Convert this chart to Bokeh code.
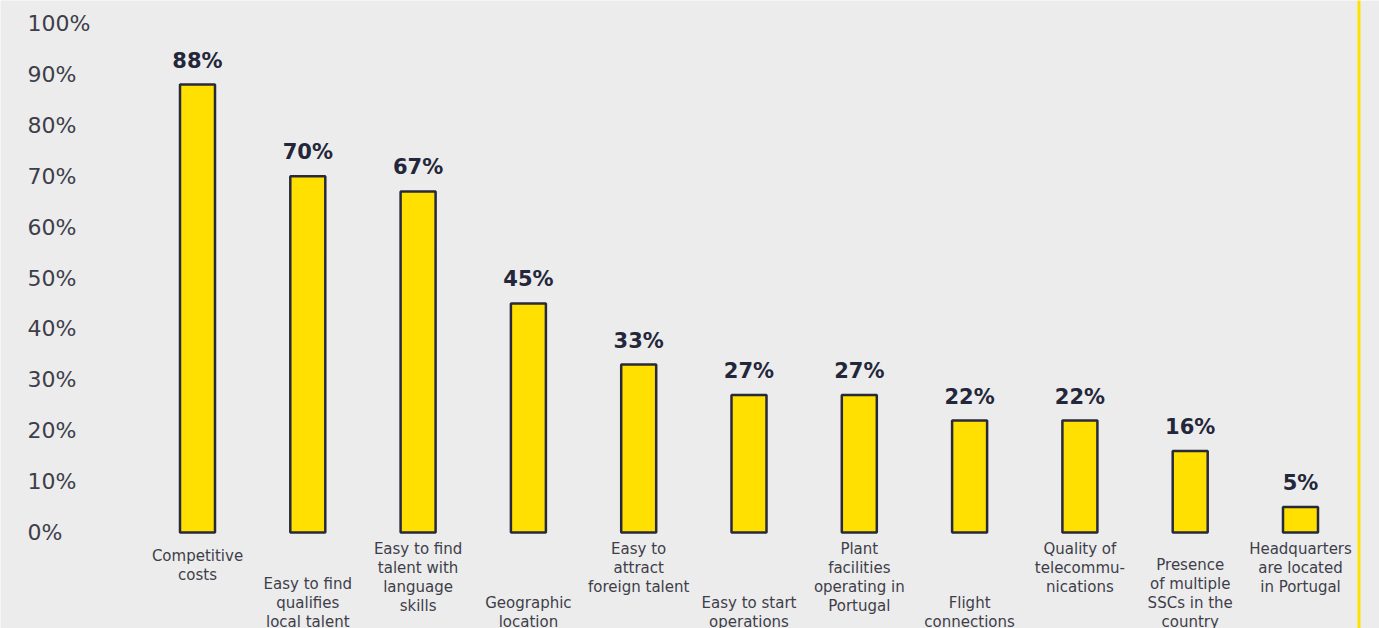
from bokeh.plotting import figure
from bokeh.models import Range1d, ColumnDataSource, Span
from bokeh.core.properties import value
from bokeh.embed import file_html
from bokeh.resources import INLINE

# ---- data ----
categories = [
    "Competitive\ncosts",
    "Easy to find\nqualifies\nlocal talent",
    "Easy to find\ntalent with\nlanguage\nskills",
    "Geographic\nlocation",
    "Easy to\nattract\nforeign talent",
    "Easy to start\noperations",
    "Plant\nfacilities\noperating in\nPortugal",
    "Flight\nconnections",
    "Quality of\ntelecommu-\nnications",
    "Presence\nof multiple\nSSCs in the\ncountry",
    "Headquarters\nare located\nin Portugal",
]
values = [88, 70, 67, 45, 33, 27, 27, 22, 22, 16, 5]
y_ticks = [0, 10, 20, 30, 40, 50, 60, 70, 80, 90, 100]
y_tick_labels = [f"{t}%" for t in y_ticks]

# ---- layout (pixels) ----
W, H = 1379, 628
PX_PER_CAT = 110.3
FIRST_CAT_PX = 197
ZERO_PX = 532
PX_PER_PCT = 5.09
label_offsets = [14, 42, 7, 61, 7, 61, 7, 61, 7, 23, 7]

x_start = -FIRST_CAT_PX / PX_PER_CAT
x_end = x_start + W / PX_PER_CAT
y_start = -(H - ZERO_PX) / PX_PER_PCT
y_end = ZERO_PX / PX_PER_PCT

BG = "#ececec"
YELLOW = "#ffe000"
DARK = "#282a3a"
TEXT = "#3e3e4a"

p = figure(width=W, height=H, x_range=Range1d(x_start, x_end),
           y_range=Range1d(y_start, y_end), output_backend="svg",
           toolbar_location=None, min_border=0)
p.axis.visible = False
p.grid.visible = False
p.outline_line_color = None
p.background_fill_color = BG
p.border_fill_color = BG

idx = list(range(len(categories)))
src = ColumnDataSource(dict(
    x=idx, top=values, cat=categories, off=label_offsets,
    lab=[f"{v}%" for v in values],
))

p.vbar(x="x", top="top", width=35 / PX_PER_CAT, source=src,
       fill_color=YELLOW, line_color=DARK, line_width=2.5)

p.text(x="x", y="top", text="lab", source=src, text_align="center",
       text_baseline="bottom", y_offset=-12,
       text_font=value("DejaVu Sans"), text_font_style="bold",
       text_font_size="21px", text_color="#24263a")

p.text(x="x", y=0, text="cat", source=src, y_offset="off",
       text_align="center", text_baseline="top",
       text_font=value("DejaVu Sans"), text_font_size="15px",
       text_line_height=1.06, text_color=TEXT)

tsrc = ColumnDataSource(dict(y=y_ticks, t=y_tick_labels))
p.text(x=x_start, y="y", text="t", source=tsrc, x_offset=27,
       text_align="left", text_baseline="middle",
       text_font=value("DejaVu Sans"), text_font_size="22px",
       text_color=TEXT)

p.add_layout(Span(location=x_start + 1358.5 / PX_PER_CAT, dimension="height",
                  line_color="#ffe100", line_width=3))

open("out.html", "w").write(file_html(p, INLINE))
